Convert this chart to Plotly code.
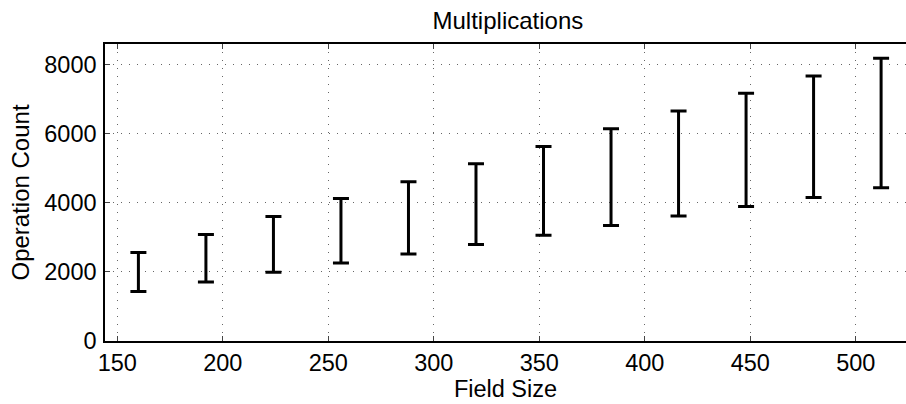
import plotly.graph_objects as go

field_size = [160, 192, 224, 256, 288, 320, 352, 384, 416, 448, 480, 512]
op_low = [1432, 1710, 1991, 2261, 2522, 2794, 3064, 3345, 3623, 3896, 4157, 4435]
op_high = [2562, 3084, 3606, 4128, 4609, 5130, 5635, 6145, 6658, 7171, 7672, 8185]

x_ticks = [150, 200, 250, 300, 350, 400, 450, 500]
y_ticks = [0, 2000, 4000, 6000, 8000]

span = [h - l for h, l in zip(op_high, op_low)]
zeros = [0] * len(span)

FONT = "Liberation Sans, Arial, Helvetica, sans-serif"

fig = go.Figure()
fig.add_trace(go.Scatter(
    x=field_size, y=op_low, mode="markers",
    marker=dict(size=1, color="rgba(0,0,0,0)"),
    error_y=dict(type="data", symmetric=False, array=span, arrayminus=zeros,
                 color="black", thickness=3, width=8),
    showlegend=False, hoverinfo="skip",
))

fig.update_layout(
    width=906, height=404,
    margin=dict(l=105, r=0, t=44, b=63),
    paper_bgcolor="white", plot_bgcolor="white",
    font=dict(family=FONT, size=22, color="black"),
    title=dict(text="Multiplications", x=0.503, xanchor="center", xref="paper",
               y=1 - 21 / 404, yref="container", yanchor="middle",
               font=dict(size=24, family=FONT, color="black")),
    xaxis=dict(
        range=[144.17, 523.8], tickvals=x_ticks, ticktext=[str(v) for v in x_ticks],
        showline=True, linecolor="black", linewidth=1.5, mirror="ticks",
        ticks="inside", ticklen=5, tickcolor="#444", tickwidth=1,
        showgrid=True, gridcolor="#666", gridwidth=1, griddash="1px,7px",
        zeroline=False,
        tickfont=dict(size=23.5, family=FONT, color="black"),
        title=dict(text="Field Size", standoff=1, font=dict(size=23.5, family=FONT, color="black")),
    ),
    yaxis=dict(
        range=[0, 8600], tickvals=y_ticks, ticktext=[str(v) for v in y_ticks],
        showline=True, linecolor="black", linewidth=1.5, mirror=False,
        ticks="inside", ticklen=5, tickcolor="#444", tickwidth=1,
        showgrid=True, gridcolor="#666", gridwidth=1, griddash="1px,7px",
        zeroline=False,
        tickfont=dict(size=23.5, family=FONT, color="black"),
        ticklabelstandoff=2,
        title=dict(text="Operation Count", standoff=8, font=dict(size=24, family=FONT, color="black")),
    ),
)

fig.write_html("out.html")
